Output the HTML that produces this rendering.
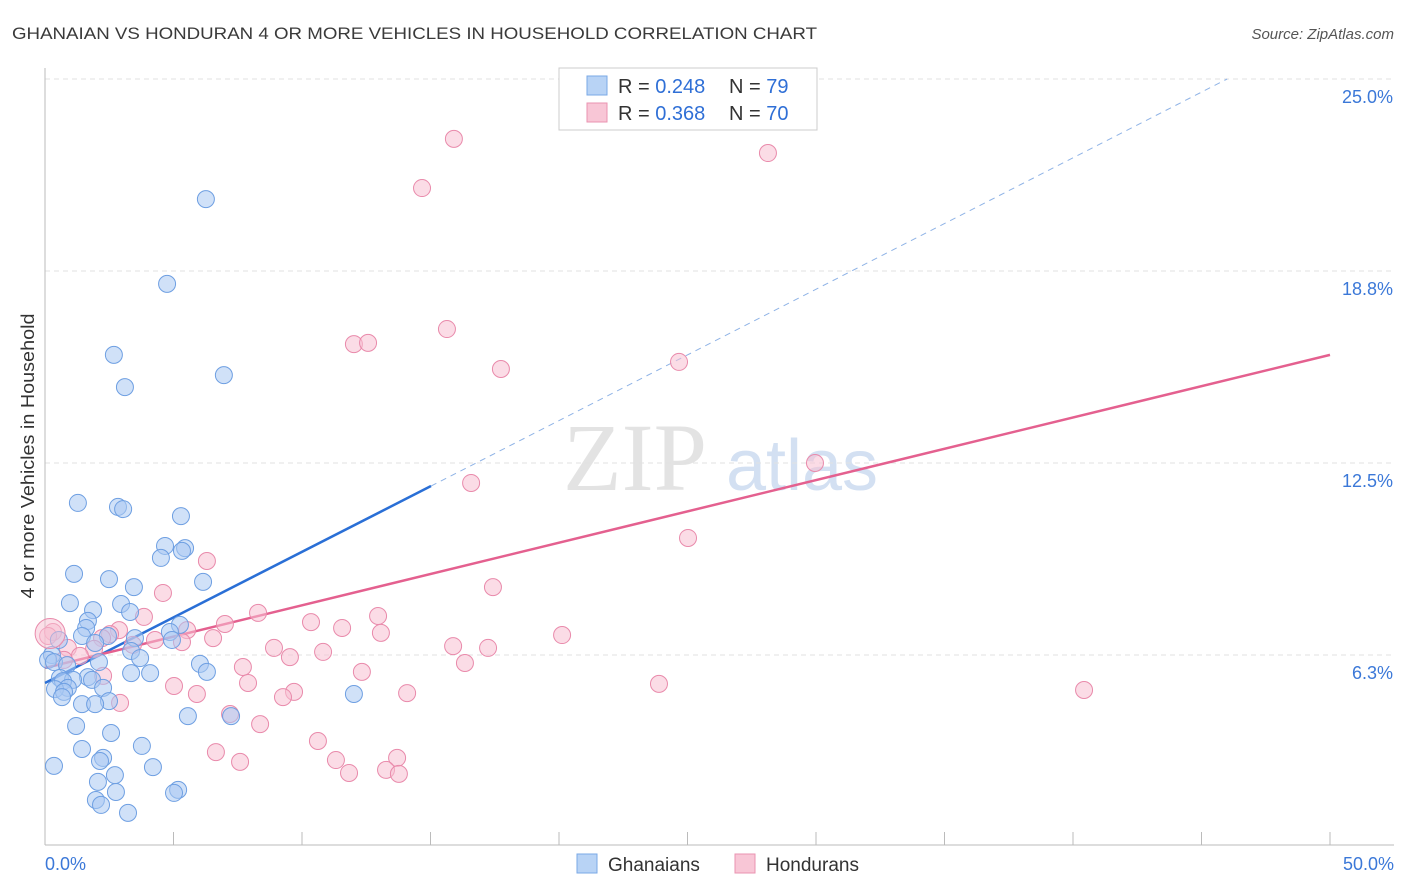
<!DOCTYPE html>
<html><head><meta charset="utf-8"><style>
body{margin:0;background:#fff;font-family:"Liberation Sans",sans-serif;}
svg{display:block}
</style></head><body>
<svg width="1406" height="892" xmlns="http://www.w3.org/2000/svg">
<text x="12" y="39" font-size="17" fill="#3a3a3a" textLength="805" lengthAdjust="spacingAndGlyphs">GHANAIAN VS HONDURAN 4 OR MORE VEHICLES IN HOUSEHOLD CORRELATION CHART</text>
<text x="1394" y="39" font-size="15" fill="#555" font-style="italic" text-anchor="end">Source: ZipAtlas.com</text>
<text x="34" y="456" font-size="18" fill="#333" text-anchor="middle" textLength="285" lengthAdjust="spacingAndGlyphs" transform="rotate(-90 34 456)">4 or more Vehicles in Household</text>
<g>
<text x="635" y="490" font-size="96" fill="#ddd" font-family="Liberation Serif" text-anchor="middle" opacity="0.8">ZIP</text>
<text x="802" y="490" font-size="72" fill="#c9d9f0" text-anchor="middle" opacity="0.8">atlas</text>
</g>
<g id="grid"></g><g id="axes"></g><g id="lines"></g><g id="pts"></g>
<g>
<rect x="559" y="68" width="258" height="62" fill="#fff" stroke="#ccc"/>
<rect x="587" y="76" width="20" height="19" fill="#b8d3f5" stroke="#7aa8e6"/>
<rect x="587" y="103" width="20" height="19" fill="#f8c6d6" stroke="#ea93b0"/>
<text x="618" y="93" font-size="20" fill="#333">R = <tspan fill="#2f6fd6">0.248</tspan></text>
<text x="729" y="93" font-size="20" fill="#333">N = <tspan fill="#2f6fd6">79</tspan></text>
<text x="618" y="120" font-size="20" fill="#333">R = <tspan fill="#2f6fd6">0.368</tspan></text>
<text x="729" y="120" font-size="20" fill="#333">N = <tspan fill="#2f6fd6">70</tspan></text>
</g>
<g>
<rect x="577" y="854" width="20" height="19" fill="#b8d3f5" stroke="#7aa8e6"/>
<text x="608" y="871" font-size="19" fill="#333">Ghanaians</text>
<rect x="735" y="854" width="20" height="19" fill="#f8c6d6" stroke="#ea93b0"/>
<text x="766" y="871" font-size="19" fill="#333">Hondurans</text>
</g>
</svg>
<script>
const yTicks=[6.25,12.5,18.75,25];
const yTickLabels=["6.3%","12.5%","18.8%","25.0%"];
const xTickLabels=["0.0%","50.0%"];
const blueX=[6.26,4.75,2.68,6.96,3.11,1.28,2.84,3.04,5.29,4.67,5.45,4.51,5.33,1.13,2.49,6.15,3.46,0.97,2.96,1.87,3.31,1.67,5.25,1.60,4.86,1.44,2.45,3.50,4.94,0.54,1.95,3.35,0.27,3.70,0.12,2.10,0.35,6.03,0.86,6.30,3.35,4.09,1.67,0.58,1.09,1.83,0.70,2.26,0.89,0.39,0.74,0.66,12.02,2.49,1.44,1.95,1.21,5.56,7.24,2.57,3.77,1.44,2.26,2.14,0.35,4.20,2.72,2.06,5.18,5.02,2.76,1.98,2.18,3.23];
const blueY=[21.09,18.33,16.02,15.36,14.97,11.20,11.07,11.00,10.77,9.80,9.73,9.41,9.64,8.89,8.72,8.63,8.46,7.94,7.91,7.71,7.65,7.36,7.23,7.13,7.00,6.87,6.87,6.80,6.74,6.74,6.64,6.38,6.25,6.15,6.09,6.02,6.02,5.96,5.92,5.70,5.66,5.66,5.53,5.50,5.44,5.44,5.40,5.18,5.18,5.14,5.05,4.88,4.98,4.75,4.65,4.65,3.94,4.26,4.26,3.71,3.29,3.19,2.90,2.80,2.64,2.60,2.34,2.12,1.86,1.76,1.79,1.53,1.37,1.11];
const pinkX=[15.91,28.13,14.67,15.64,12.02,12.57,17.74,24.67,29.96,16.58,25.02,6.30,17.43,4.59,3.85,8.29,12.96,7.00,10.35,0.31,0.12,11.56,2.88,2.53,5.53,13.07,20.12,2.22,6.54,4.28,5.33,3.42,0.89,15.88,17.24,1.91,8.91,10.82,9.53,1.36,0.74,7.70,12.33,16.34,2.26,5.02,23.89,7.90,5.91,9.69,40.43,14.09,9.26,2.92,7.20,8.37,10.62,6.65,11.32,13.70,7.59,13.27,11.83,13.77];
const pinkY=[23.05,22.59,21.45,16.86,16.37,16.41,15.56,15.79,12.50,11.85,10.06,9.31,8.46,8.27,7.49,7.62,7.52,7.26,7.32,7.00,6.87,7.13,7.06,6.93,7.06,6.97,6.90,6.80,6.80,6.74,6.67,6.58,6.48,6.54,6.48,6.45,6.48,6.35,6.18,6.22,6.09,5.86,5.70,5.99,5.57,5.24,5.31,5.34,4.98,5.05,5.11,5.01,4.88,4.69,4.33,4.00,3.45,3.09,2.83,2.90,2.77,2.51,2.41,2.38];
const blueTrend=[0,5.34,15.02,11.75];
const blueDashEnd=[46.0,25];
const pinkTrend=[0,5.83,50,16.02];
const NS="http://www.w3.org/2000/svg";
const X=v=>45+v*25.7, Y=v=>847-v*30.72;
function mk(t,a,p){const e=document.createElementNS(NS,t);for(const k in a)e.setAttribute(k,a[k]);document.getElementById(p).appendChild(e);return e;}
yTicks.forEach((t,i)=>{
 const g=mk('line',{x1:45,x2:1394,y1:Y(t),y2:Y(t),stroke:'#e2e2e2','stroke-dasharray':'5,4'},'grid');
 
 
 const l=mk('text',{x:1393,y:Y(t)+24,'font-size':18,fill:'#3b78d8','text-anchor':'end'},'axes');
 l.textContent=yTickLabels[i];
 
 
});
let a=mk('line',{x1:45,x2:45,y1:68,y2:845,stroke:'#bbb'},'axes');


a=mk('line',{x1:45,x2:1394,y1:845,y2:845,stroke:'#bbb'},'axes');


for(let i=0;i<=10;i++){const t=mk('line',{x1:X(i*5),x2:X(i*5),y1:832,y2:845,stroke:'#bbb'},'axes');
 
 }
[[0,'start',45],[50,'end',1394]].forEach((d,i)=>{const l=mk('text',{x:d[2],y:870,'font-size':18,fill:'#3b78d8','text-anchor':d[1]},'axes');l.textContent=xTickLabels[i];
 
 });
function pts(xs,ys,fill,stroke,name){xs.forEach((x,i)=>{const c=mk('circle',{cx:X(x),cy:Y(ys[i]),r:8.5,fill:fill,'fill-opacity':0.55,stroke:stroke,'stroke-width':1},'pts');
 
 });}
pts(pinkX,pinkY,'#f8c0d2','#e98aab','honduran-point');
pts(blueX,blueY,'#aac9f2','#6e9fe2','ghanaian-point');
const big=mk('circle',{cx:X(0.2),cy:Y(6.95),r:15,fill:'#f8c0d2','fill-opacity':0.5,stroke:'#e98aab'},'pts');


let l=mk('line',{x1:X(blueTrend[2]),y1:Y(blueTrend[3]),x2:X(blueDashEnd[0]),y2:Y(blueDashEnd[1]),stroke:'#8fb3e6','stroke-dasharray':'6,5'},'lines');


l=mk('line',{x1:X(blueTrend[0]),y1:Y(blueTrend[1]),x2:X(blueTrend[2]),y2:Y(blueTrend[3]),stroke:'#2a6fd6','stroke-width':2.5},'lines');


l=mk('line',{x1:X(pinkTrend[0]),y1:Y(pinkTrend[1]),x2:X(pinkTrend[2]),y2:Y(pinkTrend[3]),stroke:'#e4608f','stroke-width':2.5},'lines');


</script>
</body></html>
